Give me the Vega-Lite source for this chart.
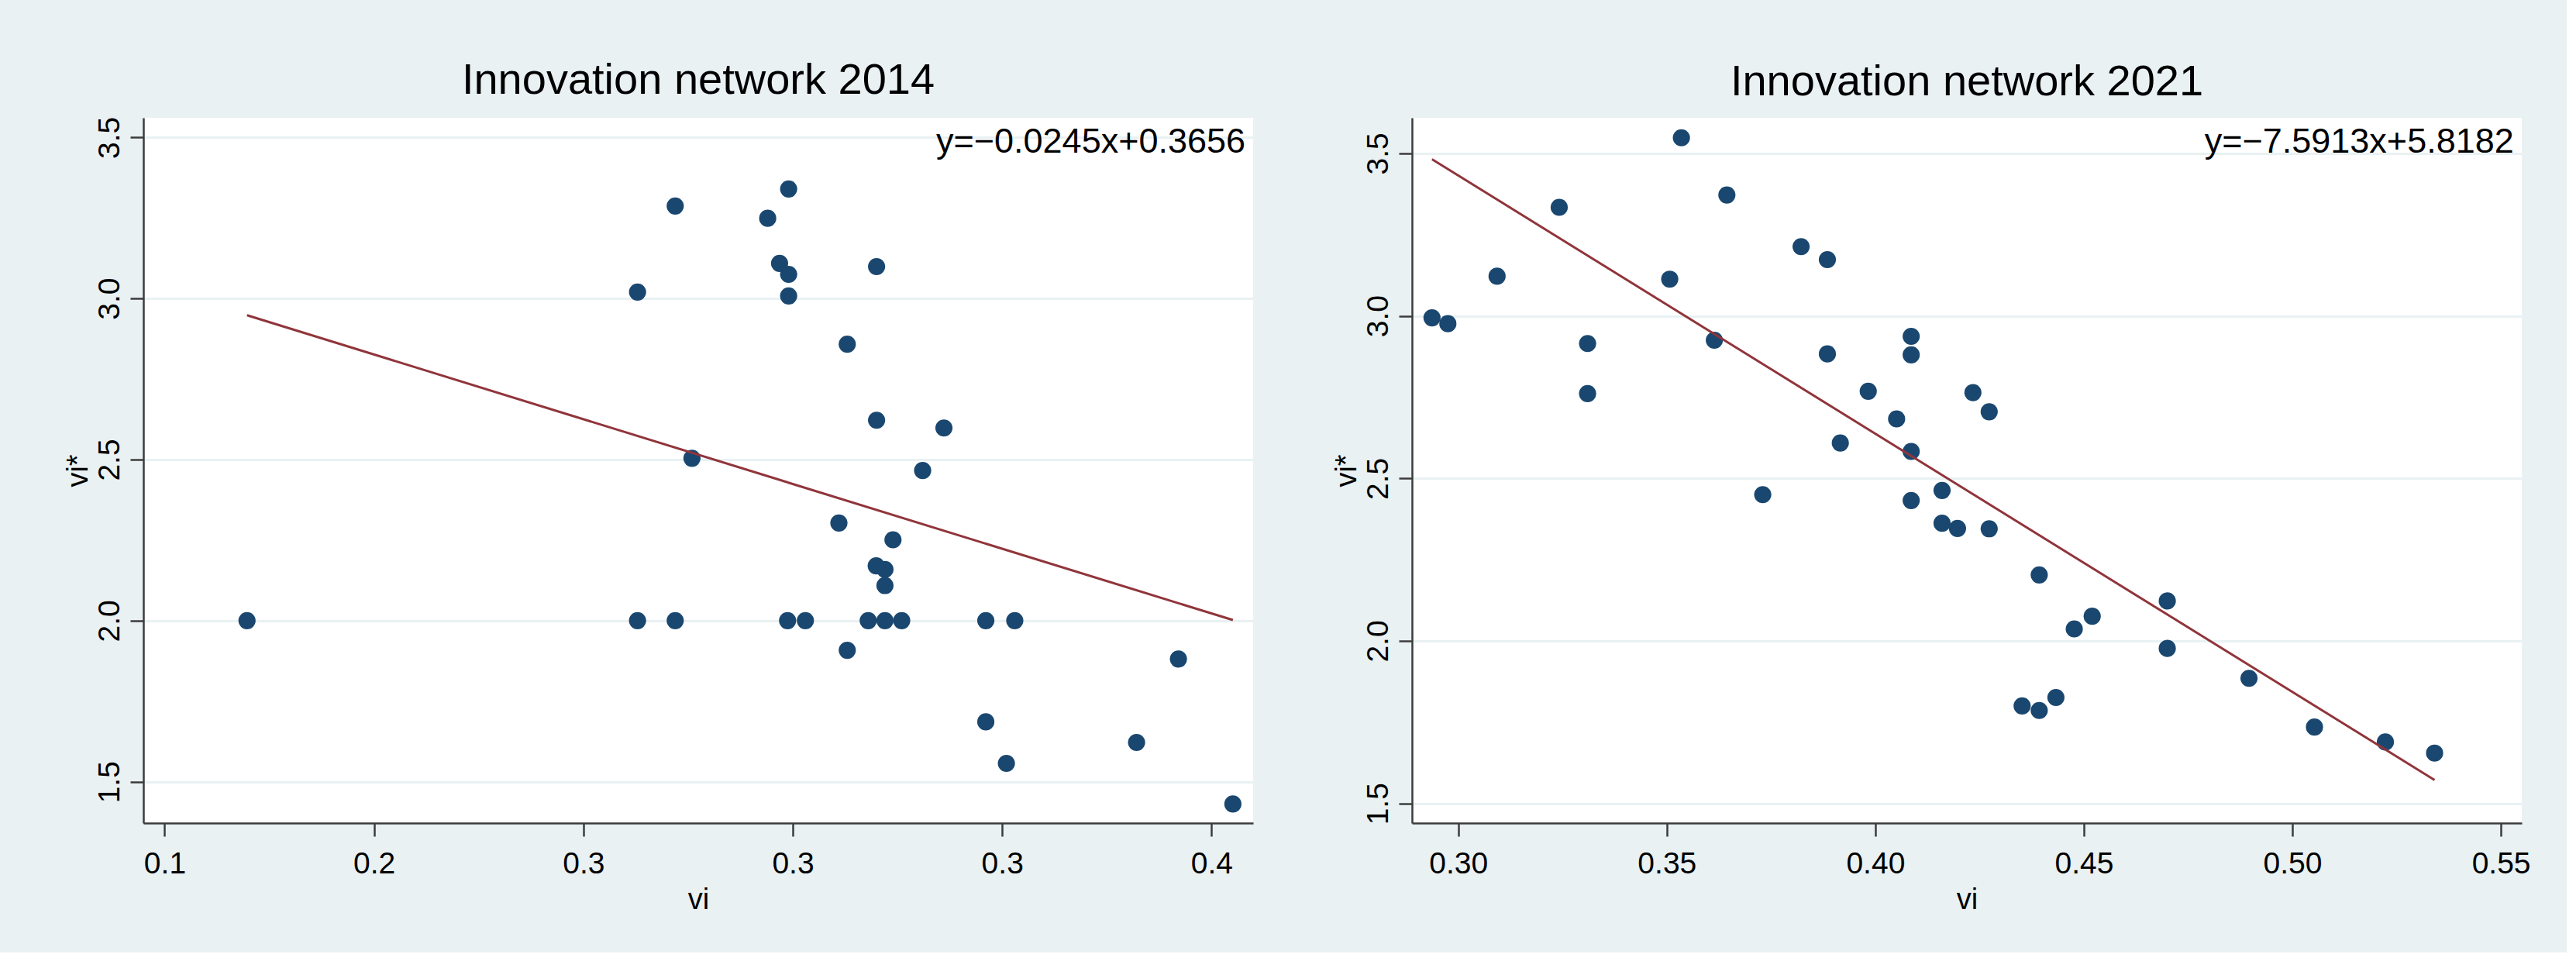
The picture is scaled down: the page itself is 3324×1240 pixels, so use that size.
{
  "$schema": "https://vega.github.io/schema/vega-lite/v6.json",
  "background": "#E9F1F3",
  "padding": {"left": 81, "top": 76, "right": 46, "bottom": 49},
  "spacing": 101,
  "datasets": {
    "pts2014": [
      {"vi": 0.2463, "vi_star": 3.287}, {"vi": 0.2788, "vi_star": 3.340}, {"vi": 0.2728, "vi_star": 3.249},
      {"vi": 0.2762, "vi_star": 3.109}, {"vi": 0.2788, "vi_star": 3.075}, {"vi": 0.3040, "vi_star": 3.099},
      {"vi": 0.2355, "vi_star": 3.020}, {"vi": 0.2788, "vi_star": 3.008}, {"vi": 0.2956, "vi_star": 2.858},
      {"vi": 0.3040, "vi_star": 2.622}, {"vi": 0.2511, "vi_star": 2.504}, {"vi": 0.3233, "vi_star": 2.598},
      {"vi": 0.3172, "vi_star": 2.466}, {"vi": 0.2932, "vi_star": 2.303}, {"vi": 0.3087, "vi_star": 2.251},
      {"vi": 0.3039, "vi_star": 2.170}, {"vi": 0.3064, "vi_star": 2.159}, {"vi": 0.3064, "vi_star": 2.109},
      {"vi": 0.2956, "vi_star": 1.908}, {"vi": 0.3905, "vi_star": 1.881}, {"vi": 0.3353, "vi_star": 1.686},
      {"vi": 0.3785, "vi_star": 1.622}, {"vi": 0.3412, "vi_star": 1.557}, {"vi": 0.4061, "vi_star": 1.431},
      {"vi": 0.1236, "vi_star": 2.0}, {"vi": 0.2355, "vi_star": 2.0}, {"vi": 0.2463, "vi_star": 2.0},
      {"vi": 0.2785, "vi_star": 2.0}, {"vi": 0.2836, "vi_star": 2.0}, {"vi": 0.3016, "vi_star": 2.0},
      {"vi": 0.3064, "vi_star": 2.0}, {"vi": 0.3112, "vi_star": 2.0}, {"vi": 0.3353, "vi_star": 2.0},
      {"vi": 0.3436, "vi_star": 2.0}
    ],
    "fit2014": [{"vi": 0.1236, "vi_star": 2.948}, {"vi": 0.4061, "vi_star": 2.002}],
    "eq2014": [{"vi": 0.4097, "vi_star": 3.4526, "label": "y=−0.0245x+0.3656"}],
    "pts2021": [
      {"vi": 0.2937, "vi_star": 2.994}, {"vi": 0.2975, "vi_star": 2.976}, {"vi": 0.3093, "vi_star": 3.122},
      {"vi": 0.3242, "vi_star": 3.334}, {"vi": 0.3310, "vi_star": 2.915}, {"vi": 0.3310, "vi_star": 2.761},
      {"vi": 0.3507, "vi_star": 3.113}, {"vi": 0.3535, "vi_star": 3.548}, {"vi": 0.3614, "vi_star": 2.925},
      {"vi": 0.3644, "vi_star": 3.372}, {"vi": 0.3730, "vi_star": 2.450}, {"vi": 0.3822, "vi_star": 3.213},
      {"vi": 0.3885, "vi_star": 3.173}, {"vi": 0.3885, "vi_star": 2.883}, {"vi": 0.3916, "vi_star": 2.609},
      {"vi": 0.3983, "vi_star": 2.768}, {"vi": 0.4051, "vi_star": 2.683}, {"vi": 0.4086, "vi_star": 2.937},
      {"vi": 0.4086, "vi_star": 2.880}, {"vi": 0.4086, "vi_star": 2.583}, {"vi": 0.4086, "vi_star": 2.432},
      {"vi": 0.4160, "vi_star": 2.463}, {"vi": 0.4160, "vi_star": 2.362}, {"vi": 0.4197, "vi_star": 2.346},
      {"vi": 0.4234, "vi_star": 2.764}, {"vi": 0.4273, "vi_star": 2.705}, {"vi": 0.4273, "vi_star": 2.345},
      {"vi": 0.4393, "vi_star": 2.203}, {"vi": 0.4477, "vi_star": 2.037}, {"vi": 0.4520, "vi_star": 2.076},
      {"vi": 0.4700, "vi_star": 2.123}, {"vi": 0.4700, "vi_star": 1.977}, {"vi": 0.4896, "vi_star": 1.885},
      {"vi": 0.4352, "vi_star": 1.800}, {"vi": 0.4393, "vi_star": 1.786}, {"vi": 0.4433, "vi_star": 1.826},
      {"vi": 0.5053, "vi_star": 1.735}, {"vi": 0.5223, "vi_star": 1.689}, {"vi": 0.5341, "vi_star": 1.655}
    ],
    "fit2021": [{"vi": 0.2937, "vi_star": 3.482}, {"vi": 0.5341, "vi_star": 1.572}],
    "eq2021": [{"vi": 0.5531, "vi_star": 3.503, "label": "y=−7.5913x+5.8182"}]
  },
  "hconcat": [
    {
      "title": "Innovation network 2014",
      "width": 1432,
      "height": 910,
      "layer": [
        {
          "data": {"name": "pts2014"},
          "mark": {"type": "circle", "color": "#1A476F", "opacity": 1, "size": 490},
          "encoding": {
            "x": {"field": "vi", "type": "quantitative",
                  "scale": {"domain": [0.0939, 0.4119], "nice": false, "zero": false},
                  "axis": {"title": "vi", "values": [0.10, 0.16, 0.22, 0.28, 0.34, 0.40],
                           "labelExpr": "datum.value < 0.13 ? '0.1' : datum.value < 0.19 ? '0.2' : datum.value < 0.37 ? '0.3' : '0.4'"}},
            "y": {"field": "vi_star", "type": "quantitative",
                  "scale": {"domain": [1.3718, 3.5609], "nice": false, "zero": false},
                  "axis": {"title": "vi*", "values": [1.5, 2.0, 2.5, 3.0, 3.5], "format": ".1f"}}
          }
        },
        {
          "data": {"name": "fit2014"},
          "mark": {"type": "line", "color": "#90353B", "strokeWidth": 3},
          "encoding": {
            "x": {"field": "vi", "type": "quantitative"},
            "y": {"field": "vi_star", "type": "quantitative"}
          }
        },
        {
          "data": {"name": "eq2014"},
          "mark": {"type": "text", "align": "right", "baseline": "alphabetic", "fontSize": 45, "color": "#000000"},
          "encoding": {
            "x": {"field": "vi", "type": "quantitative"},
            "y": {"field": "vi_star", "type": "quantitative"},
            "text": {"field": "label"}
          }
        }
      ]
    },
    {
      "title": "Innovation network 2021",
      "width": 1432,
      "height": 910,
      "layer": [
        {
          "data": {"name": "pts2021"},
          "mark": {"type": "circle", "color": "#1A476F", "opacity": 1, "size": 490},
          "encoding": {
            "x": {"field": "vi", "type": "quantitative",
                  "scale": {"domain": [0.2889, 0.5550], "nice": false, "zero": false},
                  "axis": {"title": "vi", "values": [0.30, 0.35, 0.40, 0.45, 0.50, 0.55], "format": ".2f"}},
            "y": {"field": "vi_star", "type": "quantitative",
                  "scale": {"domain": [1.4397, 3.6094], "nice": false, "zero": false},
                  "axis": {"title": "vi*", "values": [1.5, 2.0, 2.5, 3.0, 3.5], "format": ".1f"}}
          }
        },
        {
          "data": {"name": "fit2021"},
          "mark": {"type": "line", "color": "#90353B", "strokeWidth": 3},
          "encoding": {
            "x": {"field": "vi", "type": "quantitative"},
            "y": {"field": "vi_star", "type": "quantitative"}
          }
        },
        {
          "data": {"name": "eq2021"},
          "mark": {"type": "text", "align": "right", "baseline": "alphabetic", "fontSize": 45, "color": "#000000"},
          "encoding": {
            "x": {"field": "vi", "type": "quantitative"},
            "y": {"field": "vi_star", "type": "quantitative"},
            "text": {"field": "label"}
          }
        }
      ]
    }
  ],
  "config": {
    "font": "Liberation Sans",
    "view": {"fill": "#FFFFFF", "stroke": null},
    "title": {"fontSize": 56, "fontWeight": "normal", "color": "#000000", "baseline": "alphabetic", "offset": 17, "anchor": "middle", "frame": "group"},
    "axis": {
      "labelFontSize": 39, "titleFontSize": 38, "titleFontWeight": "normal",
      "labelColor": "#000000", "titleColor": "#000000",
      "domainColor": "#3C3C3C", "domainWidth": 2.5, "tickColor": "#3C3C3C", "tickWidth": 2.5, "tickSize": 17,
      "gridColor": "#E9F1F3", "gridWidth": 3, "labelOverlap": false, "labelFlush": false, "labelBound": false
    },
    "axisX": {"grid": false, "labelPadding": 16, "titlePadding": 8},
    "axisY": {"grid": true, "labelAngle": 270, "labelAlign": "center", "labelBaseline": "alphabetic", "labelPadding": 15, "titlePadding": 2}
  }
}
